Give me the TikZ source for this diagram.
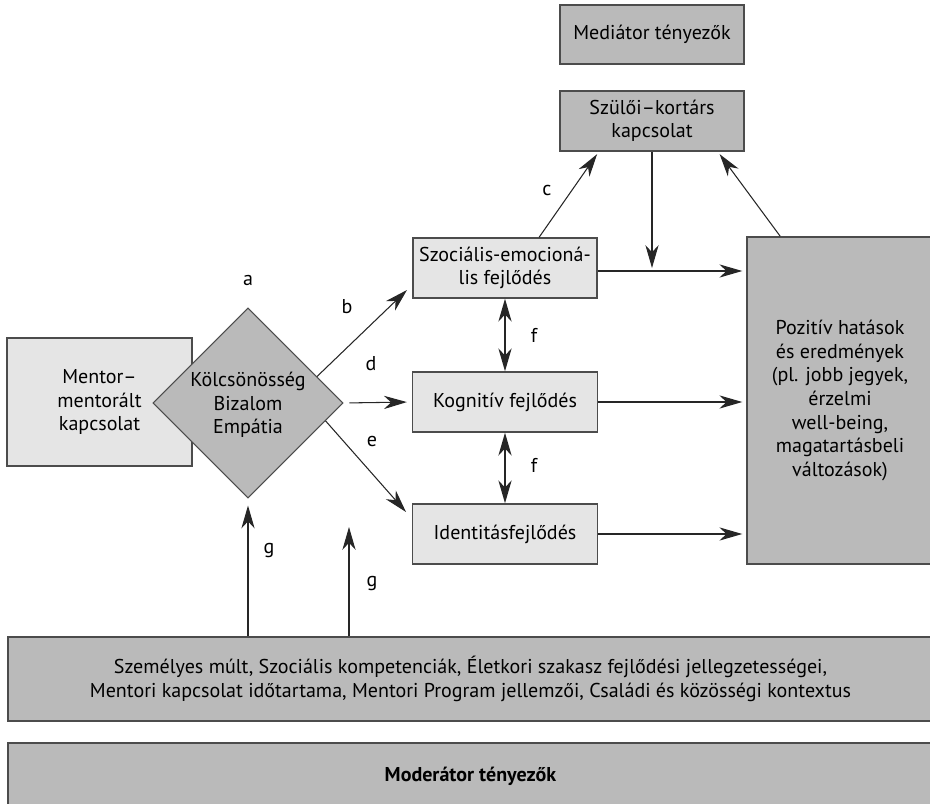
\documentclass[tikz,border=0pt]{standalone}
\usepackage{fontspec}
\setmainfont{PT Sans}
\usetikzlibrary{shapes,arrows.meta,positioning}

\begin{document}
\begin{tikzpicture}[x=0.02cm,y=-0.02cm]
            \tikzstyle{box}=[rectangle,draw=black!70,line width=0.8pt,inner sep=0pt,align=center,font=\fontsize{11.4}{13.4}\selectfont]
            \tikzstyle{link}=[font=\fontsize{11.4}{13.4}\selectfont]

            \tikzstyle{every edge}=[draw=black!85,line width=0.6pt]
            \tikzstyle{arr}=[-{Stealth[length=13pt,width=7.5pt,inset=4pt]}]
            \tikzstyle{dbl}=[{Stealth[length=13pt,width=7.5pt,inset=4pt]}-{Stealth[length=13pt,width=7.5pt,inset=4pt]}]

            \tikzstyle{L}=[box,fill=black!10]     % development
            \tikzstyle{D}=[box,fill=black!27]     % factors
            \tikzstyle{K}=[diamond,draw=black!70,line width=0.6pt,fill=black!27,inner sep=0pt,minimum width=3.8cm,minimum height=3.8cm]  % core

            \useasboundingbox (0,0) rectangle (930,804);

            \node[D,minimum width=3.68cm,minimum height=1.18cm] (med) at (652,34.5) {Mediátor tényezők};
            \node[D,minimum width=3.68cm,minimum height=1.2cm] (szul) at (652,121) {Szülői–kortárs\\kapcsolat};

            \node[L,minimum width=3.68cm,minimum height=1.2cm] (soc) at (505,268) {Szociális-emocioná-\\lis fejlődés};
            \node[L,minimum width=3.7cm,minimum height=1.2cm] (kog) at (505,402) {Kognitív fejlődés};
            \node[L,minimum width=3.7cm,minimum height=1.2cm] (ident) at (505,534) {Identitásfejlődés};

            \node[D,minimum width=3.72cm,minimum height=6.54cm] (pos) at (840,400.5) {Pozitív hatások\\és eredmények\\(pl. jobb jegyek,\\érzelmi\\well-being,\\magatartásbeli\\változások)};

            \node[L,minimum width=3.7cm,minimum height=2.56cm] (mentor) at (99.5,402) {Mentor–\\mentorált\\kapcsolat};
            \node[K] (core) at (248,403) {};
            \node[link,align=center] (coretxt) at (248,405) {Kölcsönösség\\Bizalom\\Empátia};

            \node[D,minimum width=18.5cm,minimum height=1.68cm] (ctx) at (470.5,679) {Személyes múlt, Szociális kompetenciák, Életkori szakasz fejlődési jellegzetességei,\\Mentori kapcsolat időtartama, Mentori Program jellemzői, Családi és közösségi kontextus};
            \node[D,minimum width=18.5cm,minimum height=1.34cm,font=\fontsize{11.4}{13.4}\selectfont\bfseries] (mod) at (470.5,776.5) {Moderátor tényezők};

            \coordinate (bEnd) at (407,290);
            \coordinate (eEnd) at (406,512);
            \coordinate (junc) at (652,271);
            \coordinate (gEnd) at (349,527);

            \path[arr] (core.21) edge (bEnd);
            \path[arr] (core.east) edge[shorten <=3.4pt,shorten >=2.8pt] (kog.west);
            \path[arr] (core.-13.5) edge (eEnd);
            \path[arr] (soc.42) edge[shorten >=1.7pt] (szul.210);
            \path[arr] (szul.south) edge[shorten >=1.7pt] (junc);
            \path[arr] (soc.east |- junc) edge[shorten >=2.3pt] (pos.west |- junc);
            \path[arr] (pos.110.5) edge[shorten >=1.7pt] (szul.335);
            \path[arr] (kog.east) edge[shorten >=2.3pt] (kog.east -| pos.west);
            \path[arr] (ident.east) edge[shorten >=2.3pt] (ident.east -| pos.west);
            \path[arr] (ctx.north -| core.south) edge[shorten >=4pt] (core.south);
            \path[arr] (ctx.north -| gEnd) edge (gEnd);

            \path[dbl] (soc) edge[line width=1.2pt] (kog);
            \path[dbl] (kog) edge[line width=1.2pt] (ident);

            \node[link] (la) at (248,280) {a};
            \node[link] (lb) at (347,307) {b};
            \node[link] (lc) at (547,190) {c};
            \node[link] (ld) at (371,364) {d};
            \node[link] (le) at (372,441) {e};
            \node[link] (lf1) at (534,335) {f};
            \node[link] (lf2) at (534,465) {f};
            \node[link] (lg1) at (269,551) {g};
            \node[link] (lg2) at (372,584) {g};
        \end{tikzpicture}
\end{document}
